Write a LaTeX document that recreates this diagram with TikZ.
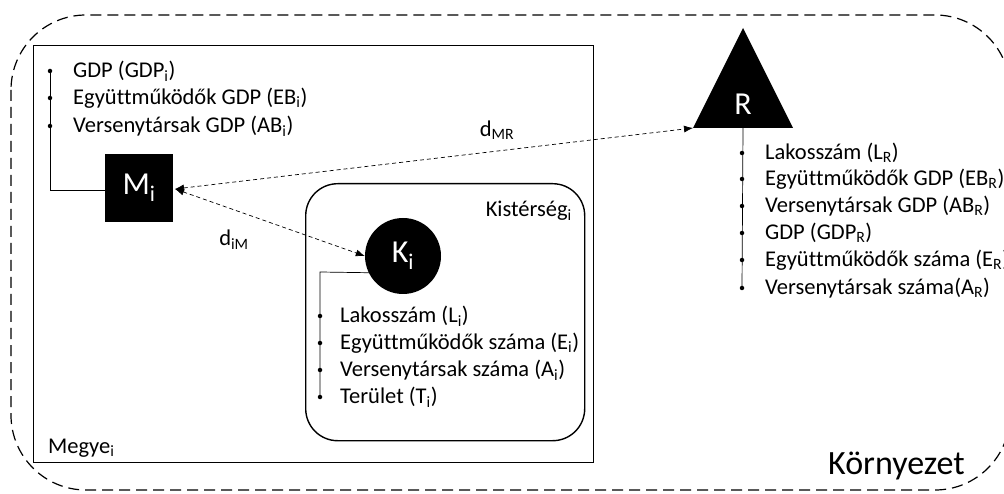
\documentclass[tikz,border=0pt]{standalone}
\usepackage{fontspec}
\setmainfont[Ligatures=NoCommon]{Carlito}
\usetikzlibrary{arrows.meta}
\begin{document}
\begin{tikzpicture}[x=1pt,y=-1pt,
  outer/.style={draw, line width=1.2pt, dash pattern=on 11pt off 6pt, rounded corners=75pt},
  frame/.style={draw, line width=1.4pt},
  list/.style={draw, line width=0.7pt},
  dot/.style={circle, fill, inner sep=0pt, minimum size=4.5pt},
  item/.style={anchor=west, inner sep=0pt, font=\fontsize{22.5}{26}\selectfont},
  lbl/.style={inner sep=0pt, font=\fontsize{22.5}{26}\selectfont},
  dist/.style={dash pattern=on 4pt off 3pt, line width=0.7pt, {Latex[length=9pt,width=7pt]}-{Latex[length=9pt,width=7pt]}},
  blk/.style={fill=black, text=white, font=\fontsize{32}{34}\selectfont}
]
\useasboundingbox (0,0) rectangle (1004,494);
% outer environment
\draw[outer] (11,15) rectangle (1010,490);
\node[anchor=base west, inner sep=0pt, font=\fontsize{34}{38}\selectfont] (env) at (828,474) {Környezet};
% county box
\node[frame, minimum width=560pt, minimum height=417pt, anchor=north west, inner sep=0pt] (megye) at (33,45) {};
\node[lbl, anchor=base west] (megyel) at (48,453) {Megye\textsubscript{i}};
% subregion
\node[frame, rounded corners=32pt, minimum width=279pt, minimum height=257pt, anchor=north west, inner sep=0pt] (kist) at (305,183) {};
\node[lbl, anchor=base east] (kistl) at (572,217) {Kistérség\textsubscript{i}};
% M_i
\node[blk, minimum size=68pt, inner sep=0pt] (M) at (139,188) {M\textsubscript{i}};
% K_i
\node[blk, circle, minimum size=76pt, inner sep=0pt] (K) at (403,256) {K\textsubscript{i}};
% R (triangle)
\coordinate (Rtop) at (743,28);
\coordinate (Rleft) at (693,128);
\coordinate (Rright) at (793,128);
\coordinate (Rbase) at (743,128);
\fill (Rtop) -- (Rleft) -- (Rright) -- cycle;
\node[inner sep=0pt, text=white, font=\fontsize{32}{34}\selectfont] (Rl) at (743,104) {R};
% M list
\coordinate (m1) at (50,71);
\coordinate (m2) at (50,98);
\coordinate (m3) at (50,126);
\draw[list] (m1) -- (50,190) -- (M.west |- 0,190);
\foreach \c in {m1,m2,m3} \node[dot] at (\c) {};
\node[item] (mt1) at (73,71) {GDP (GDP\textsubscript{i})};
\node[item] (mt2) at (73,98) {Együttműködők GDP (EB\textsubscript{i})};
\node[item] (mt3) at (73,126) {Versenytársak GDP (AB\textsubscript{i})};
% K list
\coordinate (k1) at (320,316);
\coordinate (k2) at (320,343);
\coordinate (k3) at (320,370);
\coordinate (k4) at (320,397);
\draw[list] (K.south west) ++(12,-10) coordinate (kc) -- (320,272) -- (k4);
\foreach \c in {k1,k2,k3,k4} \node[dot] at (\c) {};
\node[item] (kt1) at (340,316) {Lakosszám (L\textsubscript{i})};
\node[item] (kt2) at (340,343) {Együttműködők száma (E\textsubscript{i})};
\node[item] (kt3) at (340,370) {Versenytársak száma (A\textsubscript{i})};
\node[item] (kt4) at (340,397) {Terület (T\textsubscript{i})};
% R list
\coordinate (r1) at (742,153);
\coordinate (r2) at (742,179);
\coordinate (r3) at (742,206);
\coordinate (r4) at (742,233);
\coordinate (r5) at (742,260);
\coordinate (r6) at (742,288);
\draw[list] (Rbase) -- (r6);
\foreach \c in {r1,r2,r3,r4,r5,r6} \node[dot] at (\c) {};
\node[item] (rt1) at (765,153) {Lakosszám (L\textsubscript{R})};
\node[item] (rt2) at (765,179) {Együttműködők GDP (EB\textsubscript{R})};
\node[item] (rt3) at (765,206) {Versenytársak GDP (AB\textsubscript{R})};
\node[item] (rt4) at (765,233) {GDP (GDP\textsubscript{R})};
\node[item] (rt5) at (765,260) {Együttműködők száma (E\textsubscript{R})};
\node[item] (rt6) at (765,288) {Versenytársak száma(A\textsubscript{R})};
% distances
\coordinate (Mr) at (175,189);
\draw[dist] (Mr) -- (Rleft);
\draw[dist] (Mr) -- (K.west);
\node[lbl] (dmr) at (497,130) {d\textsubscript{MR}};
\node[lbl] (dim) at (234,240) {d\textsubscript{iM}};
\end{tikzpicture}
\end{document}
